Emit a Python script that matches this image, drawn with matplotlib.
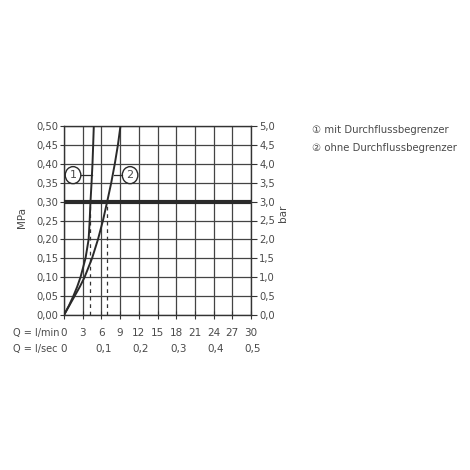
import matplotlib
matplotlib.use("Agg")
import matplotlib.pyplot as plt
from matplotlib.patches import Ellipse

# Data
pressure_mpa = [0.0, 0.025, 0.05, 0.075, 0.10, 0.15, 0.20, 0.25, 0.30, 0.35, 0.40, 0.45, 0.50]
flow_1 = [0.0, 0.8, 1.5, 2.12, 2.65, 3.45, 3.95, 4.12, 4.25, 4.42, 4.57, 4.68, 4.78]
flow_2 = [0.0, 0.85, 1.7, 2.55, 3.3, 4.5, 5.45, 6.25, 6.93, 7.58, 8.15, 8.65, 9.06]
dash_flows = [4.25, 6.93]
ref_pressure = 0.30
lmin_ticks = [0, 3, 6, 9, 12, 15, 18, 21, 24, 27, 30]
lsec_labels = ["0", "0,1", "0,2", "0,3", "0,4", "0,5"]
mpa_ticks = [0.0, 0.05, 0.10, 0.15, 0.20, 0.25, 0.30, 0.35, 0.40, 0.45, 0.50]
bar_ticks = [0.0, 0.5, 1.0, 1.5, 2.0, 2.5, 3.0, 3.5, 4.0, 4.5, 5.0]
legend_labels = ["① mit Durchflussbegrenzer", "② ohne Durchflussbegrenzer"]

txt = "#4a4a4a"
gridc = "#444444"
plt.rcParams['font.family'] = ['DejaVu Sans']

fig = plt.figure(figsize=(4.7, 4.7), dpi=100)
ax = fig.add_axes([64/470, 1-315/470, 187/470, 189/470])
ax.set_xlim(0, 30)
ax.set_ylim(0, 0.5)
ax.set_xticks(lmin_ticks)
ax.set_yticks(mpa_ticks)
ax.grid(True, color=gridc, linewidth=0.9)
for s in ax.spines.values():
    s.set_color("#333333")
    s.set_linewidth(1.0)

ax.set_yticklabels([f"{v:.2f}".replace(".", ",") for v in mpa_ticks], fontsize=7.2, color=txt)
ax.set_xticklabels([])
ax.tick_params(axis='y', direction='out', length=3, color="#333333", pad=1)
ax.tick_params(axis='x', direction='inout', length=6, color="#333333")

ax2 = ax.twinx()
ax2.set_ylim(0, 5)
ax2.set_yticks(bar_ticks)
ax2.set_yticklabels([f"{v:.1f}".replace(".", ",") for v in bar_ticks], fontsize=7.2, color=txt)
ax2.tick_params(axis='y', direction='out', length=4, color="#333333", pad=2)
for s in ax2.spines.values():
    s.set_visible(False)

ax.axhline(ref_pressure, color="#2a2a2a", linewidth=3, zorder=3)
for q in dash_flows:
    ax.plot([q, q], [0, ref_pressure], color="#333333", linestyle=(0, (3, 3)), linewidth=0.9, zorder=3)

ax.plot(flow_1, pressure_mpa, color="#2a2a2a", linewidth=1.4, zorder=4, solid_joinstyle="round")
ax.plot(flow_2, pressure_mpa, color="#2a2a2a", linewidth=1.4, zorder=4, solid_joinstyle="round")

# Circled labels
ly = 0.37
for cx, lab, x0, x1 in [(1.45, "1", 2.7, 4.55), (10.6, "2", 9.35, 7.95)]:
    ax.add_patch(Ellipse((cx, ly), 2.5, 0.045, facecolor="white", edgecolor="#2a2a2a", linewidth=1.0, zorder=5))
    ax.text(cx, ly, lab, ha="center", va="center", fontsize=8, color=txt, zorder=6)
    ax.plot([x0, x1], [ly, ly], color="#2a2a2a", linewidth=0.9, zorder=5)

# Axis labels
fig.text(22/470, 1-218/470, "MPa", rotation=90, ha="center", va="center", fontsize=7.5, color=txt)
fig.text(283/470, 1-213/470, "bar", rotation=90, ha="center", va="center", fontsize=7.5, color=txt)

# Bottom labels
y1 = 1-333/470
y2 = 1-349/470
fig.text(13/470, y1, "Q = l/min", ha="left", va="center", fontsize=7.0, color=txt)
fig.text(13/470, y2, "Q = l/sec", ha="left", va="center", fontsize=7.0, color=txt)
for q in lmin_ticks:
    xf = (64 + q / 30 * 187) / 470
    fig.text(xf, y1, str(q), ha="center", va="center", fontsize=7.5, color=txt)
for i, lab in enumerate(lsec_labels):
    q = i * 6
    xf = (64 + q / 30 * 187) / 470
    fig.text(xf + (2/470 if i > 0 else 0), y2, lab, ha="center", va="center", fontsize=7.5, color=txt)

# Legend
fig.text(312/470, 1-130/470, legend_labels[0], ha="left", va="center", fontsize=7.3, color=txt)
fig.text(312/470, 1-148/470, legend_labels[1], ha="left", va="center", fontsize=7.3, color=txt)

fig.savefig("out.png", dpi=100)
